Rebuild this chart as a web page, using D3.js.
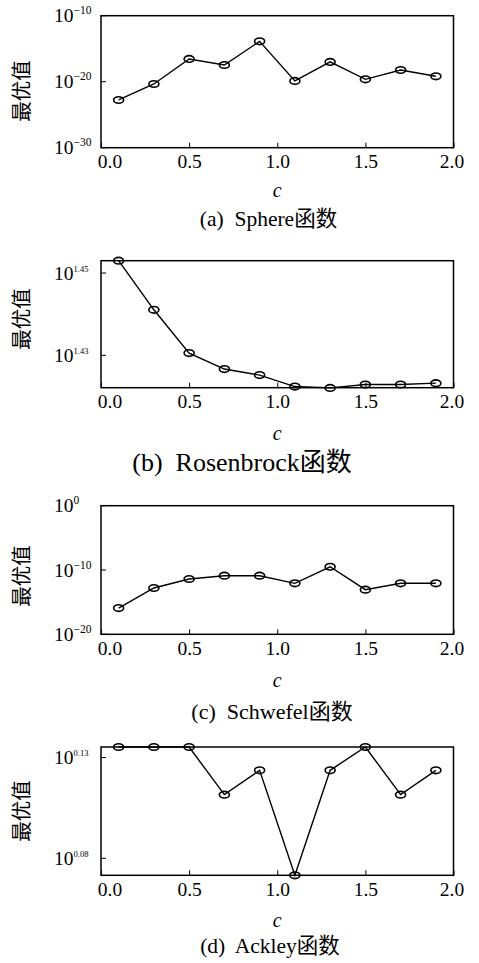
<!DOCTYPE html>
<html>
<head>
<meta charset="utf-8">
<script src="https://cdn.jsdelivr.net/npm/d3@7/dist/d3.min.js"></script>
</head>
<body style="margin:0;background:#fff">
<svg id="fig" width="479" height="963"></svg>
<script>
// values
const cValues = [0.1, 0.3, 0.5, 0.7, 0.9, 1.1, 1.3, 1.5, 1.7, 1.9];
const sphereBest = [1.7e-23, 4.5e-21, 2.8e-17, 3.4e-18, 1.3e-14, 1.3e-20, 1.0e-17, 2.3e-20, 5.9e-19, 6.6e-20];
const rosenbrockBest = [28.38, 27.61, 26.95, 26.71, 26.62, 26.45, 26.43, 26.48, 26.48, 26.50];
const schwefelBest = [1.2e-16, 1.6e-13, 4.0e-12, 1.3e-11, 1.3e-11, 8.5e-13, 3.2e-10, 8.7e-14, 8.5e-13, 8.5e-13];
const ackleyBest = [1.3654, 1.3654, 1.3654, 1.293, 1.3295, 1.1791, 1.3295, 1.3654, 1.293, 1.3295];

const xTicks = [0, 0.5, 1, 1.5, 2];
const xTickLabels = ["0.0", "0.5", "1.0", "1.5", "2.0"];
const yTickExps = [[-10, -20, -30], [1.45, 1.43], [0, -10, -20], [0.13, 0.08]];
const yTickLabels = [["−10", "−20", "−30"], ["1.45", "1.43"], ["0", "−10", "−20"], ["0.13", "0.08"]];
const yDomains = [[1e-30, 1e-10], [26.433, 28.379], [1e-20, 1], [1.1791, 1.3654]];
const panelTitles = ["(a)  Sphere函数", "(b)  Rosenbrock函数", "(c)  Schwefel函数", "(d)  Ackley函数"];
const series = [sphereBest, rosenbrockBest, schwefelBest, ackleyBest];

const serif = "'Liberation Serif', 'Noto Sans CJK SC', serif";

// layout
const left = 101, right = 453.5;
const tops = [15.7, 260.7, 505.7, 747];
const bottoms = [147.7, 387.7, 634.3, 875.3];
const yLabelY = [91, 319, 576, 811];
const cLabelY = [197, 440, 687, 927];
const titleY = [226, 471, 719, 953];
const titleX = [268.5, 242, 272, 270];
const titleSize = [21.5, 26, 22, 21.5];
const supSize = [11.5, 8.5, 11.5, 8.5];

const svg = d3.select("#fig").attr("font-family", serif);
const x = d3.scaleLinear().domain([0, 2]).range([left, right]);

series.forEach((vals, i) => {
  const y = d3.scaleLog().domain(yDomains[i]).range([bottoms[i], tops[i]]);
  const g = svg.append("g");

  // x axis, ticks pointing inward
  const xa = g.append("g")
    .attr("transform", `translate(0,${bottoms[i]})`)
    .call(d3.axisBottom(x).tickValues(xTicks).tickSizeInner(-5).tickSizeOuter(0)
      .tickPadding(20.5).tickFormat((d, k) => xTickLabels[k]));
  xa.attr("font-family", serif).attr("font-size", 19.5);
  xa.select(".domain").remove();
  xa.selectAll("line").attr("stroke", "#000").attr("stroke-width", 1);
  xa.selectAll("text")
    .attr("font-family", serif)
    .attr("fill", "#000")
    .attr("dy", 0)
    .attr("dx", (d, k) => (k === 0 ? 8.5 : k === xTicks.length - 1 ? -2 : 0));

  // y ticks inward
  const yt = yTickExps[i].map(e => Math.pow(10, e));
  g.selectAll(".yt").data(yt).join("line")
    .attr("x1", left).attr("x2", left + 5)
    .attr("y1", d => y(d)).attr("y2", d => y(d))
    .attr("stroke", "#000").attr("stroke-width", 1);

  const lab = g.selectAll(".yl").data(yt).join("text")
    .attr("font-family", serif)
    .attr("x", 54).attr("y", d => y(d) + 6.5)
    .attr("font-size", 19.5);
  lab.append("tspan").text("10");
  lab.append("tspan").attr("font-size", supSize[i]).attr("dy", -8)
    .text((d, k) => yTickLabels[i][k]);

  // frame
  g.append("rect")
    .attr("x", left).attr("y", tops[i])
    .attr("width", right - left).attr("height", bottoms[i] - tops[i])
    .attr("fill", "none").attr("stroke", "#000").attr("stroke-width", 1.5);

  // series
  const pts = cValues.map((c, k) => [c, vals[k]]);
  g.append("path").datum(pts)
    .attr("fill", "none").attr("stroke", "#000").attr("stroke-width", 1.4)
    .attr("d", d3.line().x(d => x(d[0])).y(d => y(d[1])));
  g.selectAll(".mk").data(pts).join("ellipse")
    .attr("cx", d => x(d[0])).attr("cy", d => y(d[1]))
    .attr("rx", 5).attr("ry", 3.3)
    .attr("fill", "none").attr("stroke", "#000").attr("stroke-width", 1.6);

  // labels
  g.append("text")
    .attr("font-family", serif)
    .attr("transform", `translate(29,${yLabelY[i]}) rotate(-90)`)
    .attr("text-anchor", "middle").attr("font-size", 20.5)
    .text("最优值");
  g.append("text")
    .attr("font-family", serif)
    .attr("x", x(1)).attr("y", cLabelY[i])
    .attr("text-anchor", "middle").attr("font-size", 20).attr("font-style", "italic")
    .text("c");
  g.append("text")
    .attr("font-family", serif)
    .attr("x", titleX[i]).attr("y", titleY[i])
    .attr("text-anchor", "middle").attr("font-size", titleSize[i])
    .style("white-space", "pre")
    .text(panelTitles[i]);
});
</script>
</body>
</html>
